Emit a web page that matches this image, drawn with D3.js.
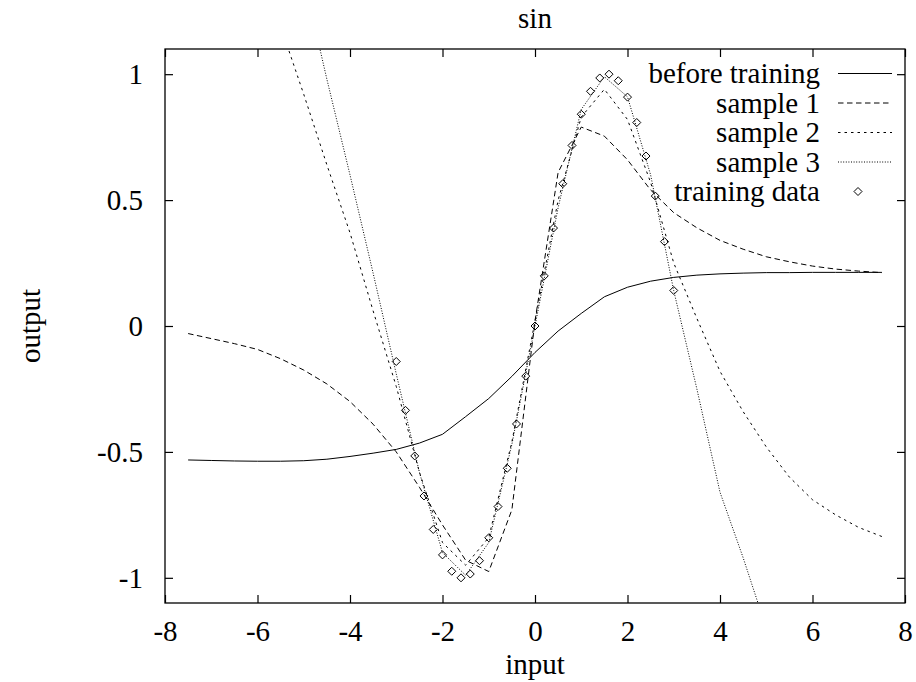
<!DOCTYPE html>
<html>
<head>
<meta charset="utf-8">
<script src="https://cdn.jsdelivr.net/npm/d3@7"></script>
<style>
  html, body { margin: 0; padding: 0; background: #fff; }
  svg { display: block; }
  text { font-family: "Liberation Serif", "Times New Roman", serif; fill: #000; }
</style>
</head>
<body>
<svg id="chart" width="916" height="682"></svg>
<script>
// ---- data ----
const xGrid = [-7.5,-7,-6.5,-6,-5.5,-5,-4.5,-4,-3.5,-3,-2.5,-2,-1.5,-1,-0.5,0,0.5,1,1.5,2,2.5,3,3.5,4,4.5,5,5.5,6,6.5,7,7.5];
const beforeTraining = [-0.532,-0.534,-0.536,-0.537,-0.537,-0.535,-0.529,-0.518,-0.505,-0.490,-0.465,-0.430,-0.360,-0.288,-0.200,-0.105,-0.020,0.050,0.116,0.154,0.178,0.193,0.202,0.207,0.210,0.212,0.212,0.213,0.213,0.213,0.213];
const sample1 = [-0.030,-0.050,-0.070,-0.093,-0.130,-0.175,-0.230,-0.300,-0.390,-0.500,-0.640,-0.790,-0.930,-0.975,-0.730,0.020,0.610,0.790,0.754,0.660,0.540,0.450,0.390,0.340,0.305,0.275,0.255,0.238,0.226,0.218,0.212];
const sample2 = [2.40,2.10,1.80,1.50,1.19,0.92,0.64,0.37,0.06,-0.24,-0.58,-0.86,-0.95,-0.84,-0.46,0.02,0.50,0.83,0.94,0.82,0.57,0.25,0.03,-0.18,-0.34,-0.48,-0.60,-0.69,-0.75,-0.80,-0.836];
const sample3 = [3.20,2.80,2.40,2.05,1.72,1.38,0.98,0.60,0.21,-0.19,-0.58,-0.90,-0.99,-0.86,-0.47,0.00,0.47,0.86,0.99,0.91,0.60,0.14,-0.25,-0.66,-0.92,-1.20,-1.45,-1.68,-1.90,-2.10,-2.30];
const trainX = [-3,-2.8,-2.6,-2.4,-2.2,-2,-1.8,-1.6,-1.4,-1.2,-1,-0.8,-0.6,-0.4,-0.2,0,0.2,0.4,0.6,0.8,1,1.2,1.4,1.6,1.8,2,2.2,2.4,2.6,2.8,3];
const trainY = [-0.141,-0.335,-0.516,-0.675,-0.808,-0.909,-0.974,-1.000,-0.985,-0.932,-0.841,-0.717,-0.565,-0.389,-0.199,0,0.199,0.389,0.565,0.717,0.841,0.932,0.985,1.000,0.974,0.909,0.808,0.675,0.516,0.335,0.141];
const xTicks = [-8,-6,-4,-2,0,2,4,6,8];
const yTicks = [-1,-0.5,0,0.5,1];
const seriesNames = ["before training","sample 1","sample 2","sample 3"];
const seriesDash = [null, "5.5,3.5", "2.5,4", "1,1.6"];
const seriesData = [beforeTraining, sample1, sample2, sample3];

// ---- layout ----
const L = 165, R = 905, T = 49, B = 603;
const svg = d3.select("#chart");
const x = d3.scaleLinear().domain([-8, 8]).range([L, R]);
const y = d3.scaleLinear().domain([-1.1, 1.1]).range([B, T]);
const fs = 29;

svg.append("defs").append("clipPath").attr("id", "clip")
  .append("rect").attr("x", L).attr("y", T).attr("width", R - L).attr("height", B - T);

// axes with inward ticks, mirrored
const tl = 8;
const axB = d3.axisBottom(x).tickValues(xTicks).tickSize(-tl).tickPadding(0).tickFormat(d => String(d));
const axT = d3.axisTop(x).tickValues(xTicks).tickSize(-tl).tickFormat("");
const axL = d3.axisLeft(y).tickValues(yTicks).tickSize(-tl).tickPadding(tl + 14).tickFormat(d => String(d));
const axR = d3.axisRight(y).tickValues(yTicks).tickSize(-tl).tickFormat("");

function style(g) {
  g.select(".domain").remove();
  g.selectAll(".tick line").attr("stroke", "#000").attr("stroke-width", 1.2);
  g.selectAll(".tick text").attr("font-size", fs).attr("font-family", "Liberation Serif").attr("fill", "#000");
}
svg.append("g").attr("transform", `translate(0,${B})`).call(axB).call(style)
  .selectAll(".tick text").attr("y", 38).attr("dy", null);
svg.append("g").attr("transform", `translate(0,${T})`).call(axT).call(style);
svg.append("g").attr("transform", `translate(${L},0)`).call(axL).call(style);
svg.append("g").attr("transform", `translate(${R},0)`).call(axR).call(style);

// frame
svg.append("rect").attr("x", L).attr("y", T).attr("width", R - L).attr("height", B - T)
  .attr("fill", "none").attr("stroke", "#000").attr("stroke-width", 1.3);

// lines
const line = d3.line().x(d => x(d[0])).y(d => y(d[1]));
const plot = svg.append("g").attr("clip-path", "url(#clip)");
seriesData.forEach((vals, i) => {
  plot.append("path")
    .attr("d", line(xGrid.map((xv, j) => [xv, vals[j]])))
    .attr("fill", "none").attr("stroke", "#000").attr("stroke-width", 1)
    .attr("stroke-dasharray", seriesDash[i]);
});

// training diamonds
const dr = 4;
const diamond = (cx, cy) => `M${cx},${cy - dr}L${cx + dr},${cy}L${cx},${cy + dr}L${cx - dr},${cy}Z`;
plot.selectAll("path.pt").data(trainX.map((xv, j) => [xv, trainY[j]])).enter()
  .append("path").attr("class", "pt")
  .attr("d", d => diamond(x(d[0]), y(d[1])))
  .attr("fill", "none").attr("stroke", "#000").attr("stroke-width", 1);

// legend
const legRows = [73.5, 103, 132.5, 162, 191.5];
const legTextX = 820, legS0 = 838, legS1 = 892;
seriesNames.forEach((name, i) => {
  svg.append("text").attr("x", legTextX).attr("y", legRows[i]).attr("dy", "0.33em")
    .attr("text-anchor", "end").attr("font-size", fs).text(name);
  svg.append("line").attr("x1", legS0).attr("x2", legS1).attr("y1", legRows[i]).attr("y2", legRows[i])
    .attr("stroke", "#000").attr("stroke-width", 1).attr("stroke-dasharray", seriesDash[i]);
});
svg.append("text").attr("x", legTextX).attr("y", legRows[4]).attr("dy", "0.33em")
  .attr("text-anchor", "end").attr("font-size", fs).text("training data");
svg.append("path").attr("d", diamond(858, legRows[4])).attr("fill", "none").attr("stroke", "#000");

// titles
svg.append("text").attr("x", (L + R) / 2).attr("y", 28).attr("text-anchor", "middle").attr("font-size", fs).text("sin");
svg.append("text").attr("x", (L + R) / 2).attr("y", 674).attr("text-anchor", "middle").attr("font-size", fs).text("input");
svg.append("text").attr("transform", `translate(40,${(T + B) / 2}) rotate(-90)`).attr("text-anchor", "middle")
  .attr("font-size", fs).text("output");
</script>
</body>
</html>
